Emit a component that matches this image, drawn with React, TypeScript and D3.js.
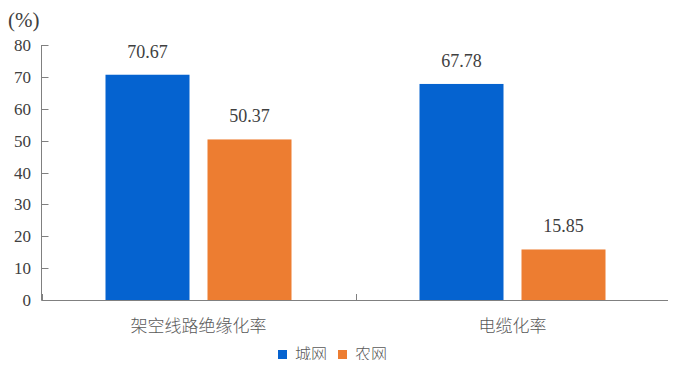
import React from "react";
import * as d3 from "d3";

const categories = ["架空线路绝缘化率", "电缆化率"];
const seriesNames = ["城网", "农网"];
const urbanValues = [70.67, 67.78];
const ruralValues = [50.37, 15.85];
const yTicks = [0, 10, 20, 30, 40, 50, 60, 70, 80];
const colors = ["#0563D0", "#ED7D31"];

const css = `
svg text.num { font-family: "Times New Roman", "Liberation Serif" !important; fill: #404040; }
svg text.cjk { font-family: "Noto Sans CJK SC" !important; font-weight: 300; fill: #595959; }
`;

export default function App() {
  const width = 676;
  const height = 368;
  const left = 41.5;
  const right = 669.5;
  const top = 45;
  const bottom = 300;

  const x = d3.scaleBand<string>().domain(categories).range([left, right]);
  const y = d3.scaleLinear().domain([0, 80]).range([bottom, top]);
  const barW = 84;
  const gap = 18;
  const data = [urbanValues, ruralValues];

  return (
    <div style={{ margin: -8 }}>
      <style>{css}</style>
      <svg width={width} height={height} style={{ display: "block" }}>
        <rect width={width} height={height} fill="#fff" />
        <text className="num" x={8} y={27} fontSize={21}>(%)</text>
        <line x1={left} x2={left} y1={top} y2={bottom} stroke="#808080" strokeWidth={1} />
        {yTicks.map((t) => (
          <g key={t}>
            <line x1={left} x2={left + 7} y1={Math.round(y(t)) + 0.5} y2={Math.round(y(t)) + 0.5} stroke="#808080" />
            <text className="num" x={31} y={y(t) + 6} textAnchor="end" fontSize={17}>{t}</text>
          </g>
        ))}
        <line x1={left} x2={right} y1={bottom + 0.5} y2={bottom + 0.5} stroke="#808080" />
        {[...categories.map((c) => x(c)!), right].map((p, i) => (
          <line key={i} x1={Math.round(p) + 0.5} x2={Math.round(p) + 0.5} y1={bottom - 6} y2={bottom} stroke="#808080" />
        ))}
        {categories.map((c, ci) => {
          const cx = x(c)! + x.bandwidth() / 2;
          return (
            <g key={c}>
              {data.map((vals, si) => {
                const bx = si === 0 ? cx - gap / 2 - barW : cx + gap / 2;
                const v = vals[ci];
                return (
                  <g key={si}>
                    <rect x={bx} y={y(v)} width={barW} height={bottom - y(v)} fill={colors[si]} />
                    <text className="num" x={bx + barW / 2} y={y(v) - 17} textAnchor="middle" fontSize={18}>
                      {v.toFixed(2)}
                    </text>
                  </g>
                );
              })}
              <text className="cjk" x={cx} y={332} textAnchor="middle" fontSize={17}>{c}</text>
            </g>
          );
        })}
        {seriesNames.map((s, i) => {
          const lx = 278 + i * 60;
          return (
            <g key={s}>
              <rect x={lx} y={350} width={9} height={9} fill={colors[i]} />
              <text className="cjk" x={lx + 17} y={360} fontSize={16}>{s}</text>
            </g>
          );
        })}
      </svg>
    </div>
  );
}
